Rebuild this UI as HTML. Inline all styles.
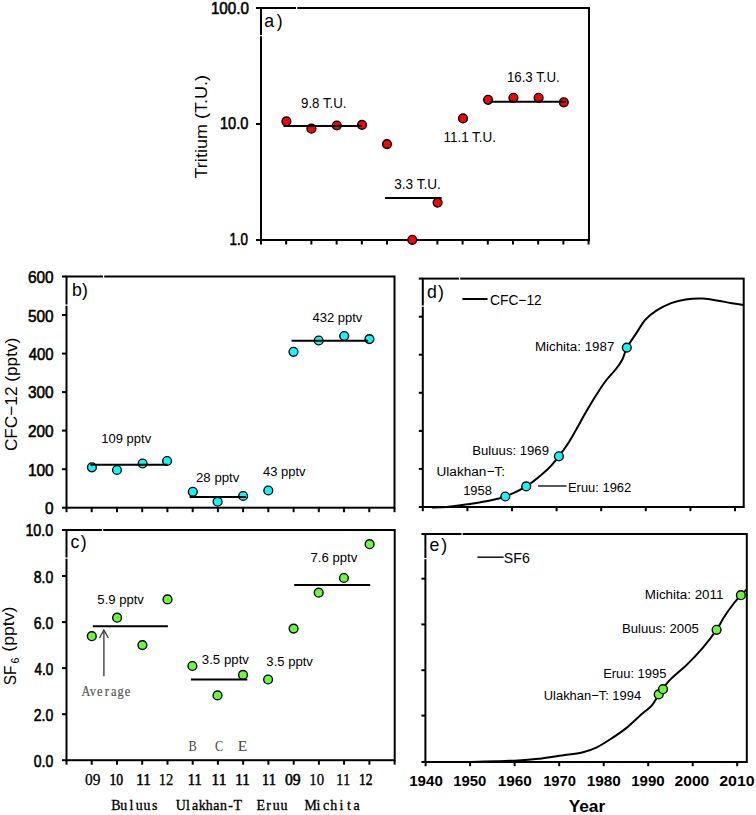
<!DOCTYPE html>
<html><head><meta charset="utf-8"><title>Figure</title>
<style>
html,body{margin:0;padding:0;background:#fff;}
body{width:756px;height:815px;overflow:hidden;font-family:"Liberation Sans",sans-serif;}
svg{display:block;}
</style></head>
<body>
<svg width="756" height="815" viewBox="0 0 756 815">
<rect width="756" height="815" fill="#fff"/>
<rect x="261.0" y="8.0" width="328.0" height="232.0" fill="none" stroke="#000" stroke-width="2"/>
<rect x="296.0" y="6.0" width="1.2" height="4" fill="#fff"/>
<rect x="259.0" y="35.0" width="4" height="1.2" fill="#fff"/>
<line x1="256.0" y1="8.0" x2="261.0" y2="8.0" stroke="#000" stroke-width="2"/>
<line x1="256.0" y1="124.0" x2="261.0" y2="124.0" stroke="#000" stroke-width="2"/>
<line x1="256.0" y1="240.0" x2="261.0" y2="240.0" stroke="#000" stroke-width="2"/>
<line x1="261.0" y1="240.0" x2="261.0" y2="244.5" stroke="#000" stroke-width="2"/>
<line x1="286.2" y1="240.0" x2="286.2" y2="244.5" stroke="#000" stroke-width="2"/>
<line x1="311.4" y1="240.0" x2="311.4" y2="244.5" stroke="#000" stroke-width="2"/>
<line x1="336.6" y1="240.0" x2="336.6" y2="244.5" stroke="#000" stroke-width="2"/>
<line x1="361.8" y1="240.0" x2="361.8" y2="244.5" stroke="#000" stroke-width="2"/>
<line x1="387.0" y1="240.0" x2="387.0" y2="244.5" stroke="#000" stroke-width="2"/>
<line x1="412.2" y1="240.0" x2="412.2" y2="244.5" stroke="#000" stroke-width="2"/>
<line x1="437.4" y1="240.0" x2="437.4" y2="244.5" stroke="#000" stroke-width="2"/>
<line x1="462.6" y1="240.0" x2="462.6" y2="244.5" stroke="#000" stroke-width="2"/>
<line x1="487.8" y1="240.0" x2="487.8" y2="244.5" stroke="#000" stroke-width="2"/>
<line x1="513.0" y1="240.0" x2="513.0" y2="244.5" stroke="#000" stroke-width="2"/>
<line x1="538.2" y1="240.0" x2="538.2" y2="244.5" stroke="#000" stroke-width="2"/>
<line x1="563.4" y1="240.0" x2="563.4" y2="244.5" stroke="#000" stroke-width="2"/>
<line x1="588.6" y1="240.0" x2="588.6" y2="244.5" stroke="#000" stroke-width="2"/>
<circle cx="286.4" cy="121.4" r="4.4" fill="#ff0000" stroke="#000" stroke-width="1.4"/>
<circle cx="311.4" cy="128.7" r="4.4" fill="#ff0000" stroke="#000" stroke-width="1.4"/>
<circle cx="336.8" cy="125.5" r="4.4" fill="#ff0000" stroke="#000" stroke-width="1.4"/>
<circle cx="362.0" cy="124.9" r="4.4" fill="#ff0000" stroke="#000" stroke-width="1.4"/>
<circle cx="387.0" cy="144.1" r="4.4" fill="#ff0000" stroke="#000" stroke-width="1.4"/>
<circle cx="412.3" cy="239.8" r="4.4" fill="#ff0000" stroke="#000" stroke-width="1.4"/>
<circle cx="437.6" cy="202.6" r="4.4" fill="#ff0000" stroke="#000" stroke-width="1.4"/>
<circle cx="463.0" cy="118.4" r="4.4" fill="#ff0000" stroke="#000" stroke-width="1.4"/>
<circle cx="488.1" cy="99.8" r="4.4" fill="#ff0000" stroke="#000" stroke-width="1.4"/>
<circle cx="513.4" cy="97.8" r="4.4" fill="#ff0000" stroke="#000" stroke-width="1.4"/>
<circle cx="538.6" cy="97.8" r="4.4" fill="#ff0000" stroke="#000" stroke-width="1.4"/>
<circle cx="563.8" cy="102.3" r="4.4" fill="#ff0000" stroke="#000" stroke-width="1.4"/>
<line x1="283.5" y1="126.0" x2="362.0" y2="126.0" stroke="#000" stroke-width="2"/>
<line x1="385.1" y1="198.1" x2="441.6" y2="198.1" stroke="#000" stroke-width="2"/>
<line x1="489.0" y1="101.8" x2="566.0" y2="101.8" stroke="#000" stroke-width="2"/>
<rect x="66.5" y="276.5" width="328.0" height="231.2" fill="none" stroke="#000" stroke-width="2"/>
<rect x="103.0" y="274.5" width="1.2" height="4" fill="#fff"/>
<rect x="64.5" y="304.5" width="4" height="1.2" fill="#fff"/>
<line x1="62.0" y1="507.7" x2="66.5" y2="507.7" stroke="#000" stroke-width="2"/>
<line x1="62.0" y1="469.2" x2="66.5" y2="469.2" stroke="#000" stroke-width="2"/>
<line x1="62.0" y1="430.6" x2="66.5" y2="430.6" stroke="#000" stroke-width="2"/>
<line x1="62.0" y1="392.1" x2="66.5" y2="392.1" stroke="#000" stroke-width="2"/>
<line x1="62.0" y1="353.6" x2="66.5" y2="353.6" stroke="#000" stroke-width="2"/>
<line x1="62.0" y1="315.0" x2="66.5" y2="315.0" stroke="#000" stroke-width="2"/>
<line x1="62.0" y1="276.5" x2="66.5" y2="276.5" stroke="#000" stroke-width="2"/>
<line x1="66.5" y1="507.7" x2="66.5" y2="512.2" stroke="#000" stroke-width="2"/>
<line x1="91.7" y1="507.7" x2="91.7" y2="512.2" stroke="#000" stroke-width="2"/>
<line x1="117.0" y1="507.7" x2="117.0" y2="512.2" stroke="#000" stroke-width="2"/>
<line x1="142.2" y1="507.7" x2="142.2" y2="512.2" stroke="#000" stroke-width="2"/>
<line x1="167.4" y1="507.7" x2="167.4" y2="512.2" stroke="#000" stroke-width="2"/>
<line x1="192.7" y1="507.7" x2="192.7" y2="512.2" stroke="#000" stroke-width="2"/>
<line x1="217.9" y1="507.7" x2="217.9" y2="512.2" stroke="#000" stroke-width="2"/>
<line x1="243.1" y1="507.7" x2="243.1" y2="512.2" stroke="#000" stroke-width="2"/>
<line x1="268.3" y1="507.7" x2="268.3" y2="512.2" stroke="#000" stroke-width="2"/>
<line x1="293.6" y1="507.7" x2="293.6" y2="512.2" stroke="#000" stroke-width="2"/>
<line x1="318.8" y1="507.7" x2="318.8" y2="512.2" stroke="#000" stroke-width="2"/>
<line x1="344.0" y1="507.7" x2="344.0" y2="512.2" stroke="#000" stroke-width="2"/>
<line x1="369.3" y1="507.7" x2="369.3" y2="512.2" stroke="#000" stroke-width="2"/>
<line x1="394.5" y1="507.7" x2="394.5" y2="512.2" stroke="#000" stroke-width="2"/>
<circle cx="91.9" cy="467.3" r="4.4" fill="#00ffff" stroke="#000" stroke-width="1.4"/>
<circle cx="117.0" cy="470.0" r="4.4" fill="#00ffff" stroke="#000" stroke-width="1.4"/>
<circle cx="142.6" cy="463.5" r="4.4" fill="#00ffff" stroke="#000" stroke-width="1.4"/>
<circle cx="167.1" cy="461.0" r="4.4" fill="#00ffff" stroke="#000" stroke-width="1.4"/>
<circle cx="192.8" cy="491.8" r="4.4" fill="#00ffff" stroke="#000" stroke-width="1.4"/>
<circle cx="217.6" cy="501.7" r="4.4" fill="#00ffff" stroke="#000" stroke-width="1.4"/>
<circle cx="243.1" cy="496.0" r="4.4" fill="#00ffff" stroke="#000" stroke-width="1.4"/>
<circle cx="268.3" cy="490.5" r="4.4" fill="#00ffff" stroke="#000" stroke-width="1.4"/>
<circle cx="293.5" cy="351.8" r="4.4" fill="#00ffff" stroke="#000" stroke-width="1.4"/>
<circle cx="318.7" cy="340.5" r="4.4" fill="#00ffff" stroke="#000" stroke-width="1.4"/>
<circle cx="344.2" cy="336.0" r="4.4" fill="#00ffff" stroke="#000" stroke-width="1.4"/>
<circle cx="369.4" cy="339.1" r="4.4" fill="#00ffff" stroke="#000" stroke-width="1.4"/>
<line x1="90.3" y1="464.8" x2="167.5" y2="464.8" stroke="#000" stroke-width="2"/>
<line x1="189.6" y1="497.1" x2="245.8" y2="497.1" stroke="#000" stroke-width="2"/>
<line x1="291.6" y1="340.7" x2="368.1" y2="340.7" stroke="#000" stroke-width="2"/>
<rect x="66.5" y="530.0" width="328.2" height="230.2" fill="none" stroke="#000" stroke-width="2"/>
<rect x="102.0" y="528.0" width="1.2" height="4" fill="#fff"/>
<rect x="64.5" y="557.5" width="4" height="1.2" fill="#fff"/>
<line x1="62.0" y1="760.2" x2="66.5" y2="760.2" stroke="#000" stroke-width="2"/>
<line x1="62.0" y1="714.2" x2="66.5" y2="714.2" stroke="#000" stroke-width="2"/>
<line x1="62.0" y1="668.1" x2="66.5" y2="668.1" stroke="#000" stroke-width="2"/>
<line x1="62.0" y1="622.1" x2="66.5" y2="622.1" stroke="#000" stroke-width="2"/>
<line x1="62.0" y1="576.0" x2="66.5" y2="576.0" stroke="#000" stroke-width="2"/>
<line x1="62.0" y1="530.0" x2="66.5" y2="530.0" stroke="#000" stroke-width="2"/>
<line x1="66.5" y1="760.2" x2="66.5" y2="764.7" stroke="#000" stroke-width="2"/>
<line x1="91.7" y1="760.2" x2="91.7" y2="764.7" stroke="#000" stroke-width="2"/>
<line x1="117.0" y1="760.2" x2="117.0" y2="764.7" stroke="#000" stroke-width="2"/>
<line x1="142.2" y1="760.2" x2="142.2" y2="764.7" stroke="#000" stroke-width="2"/>
<line x1="167.5" y1="760.2" x2="167.5" y2="764.7" stroke="#000" stroke-width="2"/>
<line x1="192.7" y1="760.2" x2="192.7" y2="764.7" stroke="#000" stroke-width="2"/>
<line x1="217.9" y1="760.2" x2="217.9" y2="764.7" stroke="#000" stroke-width="2"/>
<line x1="243.2" y1="760.2" x2="243.2" y2="764.7" stroke="#000" stroke-width="2"/>
<line x1="268.4" y1="760.2" x2="268.4" y2="764.7" stroke="#000" stroke-width="2"/>
<line x1="293.7" y1="760.2" x2="293.7" y2="764.7" stroke="#000" stroke-width="2"/>
<line x1="318.9" y1="760.2" x2="318.9" y2="764.7" stroke="#000" stroke-width="2"/>
<line x1="344.1" y1="760.2" x2="344.1" y2="764.7" stroke="#000" stroke-width="2"/>
<line x1="369.4" y1="760.2" x2="369.4" y2="764.7" stroke="#000" stroke-width="2"/>
<line x1="394.6" y1="760.2" x2="394.6" y2="764.7" stroke="#000" stroke-width="2"/>
<circle cx="91.8" cy="636.2" r="4.4" fill="#66ff33" stroke="#000" stroke-width="1.4"/>
<circle cx="117.1" cy="617.7" r="4.4" fill="#66ff33" stroke="#000" stroke-width="1.4"/>
<circle cx="142.4" cy="645.1" r="4.4" fill="#66ff33" stroke="#000" stroke-width="1.4"/>
<circle cx="167.5" cy="599.4" r="4.4" fill="#66ff33" stroke="#000" stroke-width="1.4"/>
<circle cx="192.4" cy="666.0" r="4.4" fill="#66ff33" stroke="#000" stroke-width="1.4"/>
<circle cx="217.5" cy="695.4" r="4.4" fill="#66ff33" stroke="#000" stroke-width="1.4"/>
<circle cx="243.0" cy="674.9" r="4.4" fill="#66ff33" stroke="#000" stroke-width="1.4"/>
<circle cx="268.1" cy="679.5" r="4.4" fill="#66ff33" stroke="#000" stroke-width="1.4"/>
<circle cx="293.6" cy="628.6" r="4.4" fill="#66ff33" stroke="#000" stroke-width="1.4"/>
<circle cx="318.7" cy="592.7" r="4.4" fill="#66ff33" stroke="#000" stroke-width="1.4"/>
<circle cx="343.9" cy="578.0" r="4.4" fill="#66ff33" stroke="#000" stroke-width="1.4"/>
<circle cx="369.6" cy="544.2" r="4.4" fill="#66ff33" stroke="#000" stroke-width="1.4"/>
<line x1="92.8" y1="626.2" x2="167.9" y2="626.2" stroke="#000" stroke-width="2"/>
<line x1="190.9" y1="679.5" x2="247.3" y2="679.5" stroke="#000" stroke-width="2"/>
<line x1="294.2" y1="585.0" x2="370.2" y2="585.0" stroke="#000" stroke-width="2"/>
<line x1="103.9" y1="676.3" x2="103.9" y2="630.5" stroke="#333" stroke-width="1.3"/>
<polyline points="99.5,638 103.9,630 108.4,638" fill="none" stroke="#333" stroke-width="1.3"/>
<rect x="422.8" y="278.6" width="320.9" height="228.4" fill="none" stroke="#000" stroke-width="2"/>
<rect x="459.0" y="276.6" width="1.2" height="4" fill="#fff"/>
<rect x="420.8" y="305.5" width="4" height="1.2" fill="#fff"/>
<line x1="418.8" y1="468.9" x2="422.8" y2="468.9" stroke="#000" stroke-width="2"/>
<line x1="418.8" y1="430.9" x2="422.8" y2="430.9" stroke="#000" stroke-width="2"/>
<line x1="418.8" y1="392.8" x2="422.8" y2="392.8" stroke="#000" stroke-width="2"/>
<line x1="418.8" y1="354.7" x2="422.8" y2="354.7" stroke="#000" stroke-width="2"/>
<line x1="418.8" y1="316.7" x2="422.8" y2="316.7" stroke="#000" stroke-width="2"/>
<line x1="418.8" y1="278.6" x2="422.8" y2="278.6" stroke="#000" stroke-width="2"/>
<line x1="418.8" y1="507.0" x2="422.8" y2="507.0" stroke="#000" stroke-width="2"/>
<line x1="422.8" y1="507.0" x2="422.8" y2="511.2" stroke="#000" stroke-width="2"/>
<line x1="467.4" y1="507.0" x2="467.4" y2="511.2" stroke="#000" stroke-width="2"/>
<line x1="512.0" y1="507.0" x2="512.0" y2="511.2" stroke="#000" stroke-width="2"/>
<line x1="556.6" y1="507.0" x2="556.6" y2="511.2" stroke="#000" stroke-width="2"/>
<line x1="601.2" y1="507.0" x2="601.2" y2="511.2" stroke="#000" stroke-width="2"/>
<line x1="645.8" y1="507.0" x2="645.8" y2="511.2" stroke="#000" stroke-width="2"/>
<line x1="690.4" y1="507.0" x2="690.4" y2="511.2" stroke="#000" stroke-width="2"/>
<line x1="735.0" y1="507.0" x2="735.0" y2="511.2" stroke="#000" stroke-width="2"/>
<line x1="462.4" y1="299.0" x2="487.5" y2="299.0" stroke="#000" stroke-width="2"/>
<path d="M432.0,507.6 C434.4,507.5 440.6,507.6 446.5,507.0 C452.4,506.4 461.0,505.3 467.6,504.3 C474.2,503.3 479.8,502.5 486.1,501.2 C492.4,499.9 498.6,499.0 505.3,496.5 C512.0,494.0 519.1,490.9 526.2,486.4 C533.3,481.8 542.2,474.2 547.7,469.2 C553.2,464.2 555.6,460.4 558.9,456.3 C562.2,452.2 564.6,448.7 567.5,444.3 C570.4,439.9 573.2,434.7 576.1,429.7 C579.0,424.7 581.6,419.6 584.7,414.2 C587.9,408.8 591.6,402.4 595.0,397.0 C598.4,391.6 601.9,386.1 605.3,381.5 C608.7,376.9 612.7,373.2 615.6,369.5 C618.5,365.8 620.6,362.8 622.5,359.2 C624.4,355.6 624.5,352.1 626.8,347.8 C629.1,343.5 633.1,338.1 636.2,333.4 C639.3,328.7 641.9,323.6 645.2,319.8 C648.6,316.0 652.0,313.4 656.3,310.6 C660.6,307.8 666.2,305.0 671.1,303.1 C676.0,301.2 680.6,300.1 685.9,299.4 C691.2,298.6 697.5,298.4 702.9,298.6 C708.3,298.8 713.4,299.9 718.3,300.7 C723.1,301.5 727.9,302.6 732.0,303.3 C736.1,304.0 741.2,304.7 743.1,305.0" fill="none" stroke="#000" stroke-width="2"/>
<circle cx="505.3" cy="496.5" r="4.4" fill="#00ffff" stroke="#000" stroke-width="1.4"/>
<circle cx="526.2" cy="486.4" r="4.4" fill="#00ffff" stroke="#000" stroke-width="1.4"/>
<circle cx="558.9" cy="456.3" r="4.4" fill="#00ffff" stroke="#000" stroke-width="1.4"/>
<circle cx="626.8" cy="347.6" r="4.4" fill="#00ffff" stroke="#000" stroke-width="1.4"/>
<line x1="538.1" y1="486.0" x2="566.5" y2="486.0" stroke="#000" stroke-width="1.3"/>
<rect x="425.4" y="534.0" width="321.4" height="228.0" fill="none" stroke="#000" stroke-width="2"/>
<rect x="461.5" y="532.0" width="1.2" height="4" fill="#fff"/>
<rect x="423.4" y="558.0" width="4" height="1.2" fill="#fff"/>
<line x1="421.4" y1="534.0" x2="425.4" y2="534.0" stroke="#000" stroke-width="2"/>
<line x1="421.4" y1="578.7" x2="425.4" y2="578.7" stroke="#000" stroke-width="2"/>
<line x1="421.4" y1="624.4" x2="425.4" y2="624.4" stroke="#000" stroke-width="2"/>
<line x1="421.4" y1="670.2" x2="425.4" y2="670.2" stroke="#000" stroke-width="2"/>
<line x1="421.4" y1="715.6" x2="425.4" y2="715.6" stroke="#000" stroke-width="2"/>
<line x1="421.4" y1="762.0" x2="425.4" y2="762.0" stroke="#000" stroke-width="2"/>
<line x1="425.6" y1="762.0" x2="425.6" y2="766.2" stroke="#000" stroke-width="2"/>
<line x1="470.1" y1="762.0" x2="470.1" y2="766.2" stroke="#000" stroke-width="2"/>
<line x1="514.6" y1="762.0" x2="514.6" y2="766.2" stroke="#000" stroke-width="2"/>
<line x1="559.2" y1="762.0" x2="559.2" y2="766.2" stroke="#000" stroke-width="2"/>
<line x1="603.7" y1="762.0" x2="603.7" y2="766.2" stroke="#000" stroke-width="2"/>
<line x1="648.2" y1="762.0" x2="648.2" y2="766.2" stroke="#000" stroke-width="2"/>
<line x1="692.7" y1="762.0" x2="692.7" y2="766.2" stroke="#000" stroke-width="2"/>
<line x1="737.2" y1="762.0" x2="737.2" y2="766.2" stroke="#000" stroke-width="2"/>
<line x1="477.4" y1="557.2" x2="503.6" y2="557.2" stroke="#000" stroke-width="1.4"/>
<path d="M470.0,762.0 C478.0,761.7 506.3,761.0 518.2,760.4 C530.1,759.8 534.2,759.2 541.5,758.4 C548.8,757.6 555.1,756.5 561.9,755.5 C568.7,754.5 576.4,753.9 582.2,752.5 C588.0,751.1 591.9,749.6 596.8,747.3 C601.6,745.0 606.4,741.8 611.3,738.6 C616.1,735.5 621.0,732.3 625.9,728.4 C630.8,724.5 636.0,719.2 640.4,715.3 C644.8,711.4 649.0,708.6 652.1,705.1 C655.2,701.6 655.9,698.6 658.8,694.5 C661.7,690.4 664.9,685.3 669.5,680.4 C674.1,675.5 681.1,670.4 686.7,664.9 C692.3,659.4 698.2,653.2 703.2,647.4 C708.2,641.5 713.2,634.8 716.6,629.8 C720.0,624.8 720.9,622.0 723.8,617.5 C726.7,613.0 731.2,606.7 734.1,603.0 C737.0,599.3 738.8,597.4 740.9,595.2 C743.0,593.0 745.6,590.5 746.5,589.6" fill="none" stroke="#000" stroke-width="2"/>
<circle cx="658.7" cy="694.4" r="4.4" fill="#66ff33" stroke="#000" stroke-width="1.4"/>
<circle cx="663.0" cy="689.2" r="4.4" fill="#66ff33" stroke="#000" stroke-width="1.4"/>
<circle cx="716.6" cy="629.8" r="4.4" fill="#66ff33" stroke="#000" stroke-width="1.4"/>
<circle cx="740.9" cy="595.2" r="4.4" fill="#66ff33" stroke="#000" stroke-width="1.4"/>
<text id="a100" x="210.90" y="13.92" font-size="17.20" font-weight="normal" font-family='"Liberation Sans", sans-serif' fill="#000" textLength="38.05" lengthAdjust="spacingAndGlyphs" stroke="#000" stroke-width="0.6">100.0</text>
<text id="a10" x="219.91" y="129.35" font-size="17.20" font-weight="normal" font-family='"Liberation Sans", sans-serif' fill="#000" textLength="28.47" lengthAdjust="spacingAndGlyphs" stroke="#000" stroke-width="0.6">10.0</text>
<text id="a1" x="229.48" y="245.48" font-size="17.20" font-weight="normal" font-family='"Liberation Sans", sans-serif' fill="#000" textLength="18.58" lengthAdjust="spacingAndGlyphs" stroke="#000" stroke-width="0.6">1.0</text>
<text id="atit" transform="rotate(-90)" x="-178.48" y="206.86" font-size="16.80" font-weight="normal" font-family='"Liberation Sans", sans-serif' fill="#000" textLength="103.46" lengthAdjust="spacingAndGlyphs">Tritium (T.U.)</text>
<text id="alab" x="264.32" y="27.25" font-size="17.70" font-weight="normal" font-family='"Liberation Sans", sans-serif' fill="#000" textLength="18.28" lengthAdjust="spacing">a)</text>
<text id="a98" x="300.99" y="108.22" font-size="14.50" font-weight="normal" font-family='"Liberation Sans", sans-serif' fill="#000" textLength="45.55" lengthAdjust="spacingAndGlyphs">9.8 T.U.</text>
<text id="a33" x="394.19" y="188.63" font-size="14.50" font-weight="normal" font-family='"Liberation Sans", sans-serif' fill="#000" textLength="46.66" lengthAdjust="spacingAndGlyphs">3.3 T.U.</text>
<text id="a163" x="506.93" y="81.85" font-size="14.50" font-weight="normal" font-family='"Liberation Sans", sans-serif' fill="#000" textLength="52.81" lengthAdjust="spacingAndGlyphs">16.3 T.U.</text>
<text id="a111" x="443.41" y="142.29" font-size="14.50" font-weight="normal" font-family='"Liberation Sans", sans-serif' fill="#000" textLength="52.67" lengthAdjust="spacingAndGlyphs">11.1 T.U.</text>
<text id="b600" x="27.94" y="283.08" font-size="17.20" font-weight="normal" font-family='"Liberation Sans", sans-serif' fill="#000" textLength="25.67" lengthAdjust="spacingAndGlyphs" stroke="#000" stroke-width="0.6">600</text>
<text id="b500" x="27.94" y="321.63" font-size="17.20" font-weight="normal" font-family='"Liberation Sans", sans-serif' fill="#000" textLength="25.67" lengthAdjust="spacingAndGlyphs" stroke="#000" stroke-width="0.6">500</text>
<text id="b400" x="28.75" y="359.83" font-size="17.20" font-weight="normal" font-family='"Liberation Sans", sans-serif' fill="#000" textLength="24.88" lengthAdjust="spacingAndGlyphs" stroke="#000" stroke-width="0.6">400</text>
<text id="b300" x="27.94" y="398.45" font-size="17.20" font-weight="normal" font-family='"Liberation Sans", sans-serif' fill="#000" textLength="25.67" lengthAdjust="spacingAndGlyphs" stroke="#000" stroke-width="0.6">300</text>
<text id="b200" x="27.94" y="436.83" font-size="17.20" font-weight="normal" font-family='"Liberation Sans", sans-serif' fill="#000" textLength="25.67" lengthAdjust="spacingAndGlyphs" stroke="#000" stroke-width="0.6">200</text>
<text id="b100" x="27.89" y="475.97" font-size="17.20" font-weight="normal" font-family='"Liberation Sans", sans-serif' fill="#000" textLength="25.75" lengthAdjust="spacingAndGlyphs" stroke="#000" stroke-width="0.6">100</text>
<text id="b0" x="45.12" y="514.43" font-size="17.20" font-weight="normal" font-family='"Liberation Sans", sans-serif' fill="#000" textLength="8.54" lengthAdjust="spacingAndGlyphs" stroke="#000" stroke-width="0.6">0</text>
<text id="btit" transform="rotate(-90)" x="-451.11" y="17.36" font-size="16.80" font-weight="normal" font-family='"Liberation Sans", sans-serif' fill="#000" textLength="113.45" lengthAdjust="spacingAndGlyphs">CFC−12 (pptv)</text>
<text id="blab" x="72.07" y="296.33" font-size="17.70" font-weight="normal" font-family='"Liberation Sans", sans-serif' fill="#000" textLength="15.87" lengthAdjust="spacing">b)</text>
<text id="b109" x="101.31" y="443.23" font-size="12.50" font-weight="normal" font-family='"Liberation Sans", sans-serif' fill="#000" textLength="49.88" lengthAdjust="spacingAndGlyphs">109 pptv</text>
<text id="b28" x="196.01" y="482.33" font-size="12.50" font-weight="normal" font-family='"Liberation Sans", sans-serif' fill="#000" textLength="43.38" lengthAdjust="spacingAndGlyphs">28 pptv</text>
<text id="b43" x="263.00" y="476.27" font-size="12.50" font-weight="normal" font-family='"Liberation Sans", sans-serif' fill="#000" textLength="42.60" lengthAdjust="spacingAndGlyphs">43 pptv</text>
<text id="b432" x="312.41" y="321.89" font-size="12.50" font-weight="normal" font-family='"Liberation Sans", sans-serif' fill="#000" textLength="49.99" lengthAdjust="spacingAndGlyphs">432 pptv</text>
<text id="c100" x="25.38" y="536.45" font-size="17.20" font-weight="normal" font-family='"Liberation Sans", sans-serif' fill="#000" textLength="27.86" lengthAdjust="spacingAndGlyphs" stroke="#000" stroke-width="0.6">10.0</text>
<text id="c80" x="33.75" y="582.97" font-size="17.20" font-weight="normal" font-family='"Liberation Sans", sans-serif' fill="#000" textLength="19.55" lengthAdjust="spacingAndGlyphs" stroke="#000" stroke-width="0.6">8.0</text>
<text id="c60" x="33.74" y="628.97" font-size="17.20" font-weight="normal" font-family='"Liberation Sans", sans-serif' fill="#000" textLength="19.55" lengthAdjust="spacingAndGlyphs" stroke="#000" stroke-width="0.6">6.0</text>
<text id="c40" x="34.54" y="674.97" font-size="17.20" font-weight="normal" font-family='"Liberation Sans", sans-serif' fill="#000" textLength="18.77" lengthAdjust="spacingAndGlyphs" stroke="#000" stroke-width="0.6">4.0</text>
<text id="c20" x="33.75" y="720.77" font-size="17.20" font-weight="normal" font-family='"Liberation Sans", sans-serif' fill="#000" textLength="19.55" lengthAdjust="spacingAndGlyphs" stroke="#000" stroke-width="0.6">2.0</text>
<text id="c00" x="33.74" y="766.77" font-size="17.20" font-weight="normal" font-family='"Liberation Sans", sans-serif' fill="#000" textLength="19.55" lengthAdjust="spacingAndGlyphs" stroke="#000" stroke-width="0.6">0.0</text>
<text id="ctitSF" transform="rotate(-90)" x="-685.29" y="15.60" font-size="16.50" font-weight="normal" font-family='"Liberation Sans", sans-serif' fill="#000" textLength="19.66" lengthAdjust="spacingAndGlyphs">SF</text>
<text id="ctit6" transform="rotate(-90)" x="-663.57" y="19.10" font-size="11.60" font-weight="normal" font-family='"Liberation Sans", sans-serif' fill="#000" textLength="5.85" lengthAdjust="spacingAndGlyphs">6</text>
<text id="ctitP" transform="rotate(-90)" x="-651.73" y="14.22" font-size="16.80" font-weight="normal" font-family='"Liberation Sans", sans-serif' fill="#000" textLength="45.23" lengthAdjust="spacingAndGlyphs">(pptv)</text>
<text id="clab" x="70.56" y="548.44" font-size="17.70" font-weight="normal" font-family='"Liberation Sans", sans-serif' fill="#000" textLength="16.13" lengthAdjust="spacing">c)</text>
<text id="c59" x="97.36" y="603.65" font-size="12.50" font-weight="normal" font-family='"Liberation Sans", sans-serif' fill="#000" textLength="46.56" lengthAdjust="spacingAndGlyphs">5.9 pptv</text>
<text id="c35a" x="201.84" y="663.71" font-size="12.50" font-weight="normal" font-family='"Liberation Sans", sans-serif' fill="#000" textLength="47.11" lengthAdjust="spacingAndGlyphs">3.5 pptv</text>
<text id="c35b" x="266.37" y="666.27" font-size="12.50" font-weight="normal" font-family='"Liberation Sans", sans-serif' fill="#000" textLength="46.56" lengthAdjust="spacingAndGlyphs">3.5 pptv</text>
<text id="c76" x="310.50" y="562.17" font-size="12.50" font-weight="normal" font-family='"Liberation Sans", sans-serif' fill="#000" textLength="46.73" lengthAdjust="spacingAndGlyphs">7.6 pptv</text>
<text id="cB" x="188.50" y="750.94" font-size="14.90" font-weight="normal" font-family='"Liberation Serif", serif' fill="#444" textLength="8.22" lengthAdjust="spacingAndGlyphs">B</text>
<text id="cC" x="214.91" y="750.94" font-size="14.90" font-weight="normal" font-family='"Liberation Serif", serif' fill="#444" textLength="8.14" lengthAdjust="spacingAndGlyphs">C</text>
<text id="cE" x="237.75" y="750.94" font-size="14.90" font-weight="normal" font-family='"Liberation Serif", serif' fill="#444" textLength="9.49" lengthAdjust="spacingAndGlyphs">E</text>
<text id="cx0" x="84.96" y="785.00" font-size="15.70" font-weight="normal" font-family='"Liberation Serif", serif' fill="#000" textLength="15.38" lengthAdjust="spacingAndGlyphs" stroke="#000" stroke-width="0.25">09</text>
<text id="cx1" x="109.47" y="785.00" font-size="15.70" font-weight="normal" font-family='"Liberation Serif", serif' fill="#000" textLength="13.66" lengthAdjust="spacingAndGlyphs" stroke="#000" stroke-width="0.55">10</text>
<text id="cx2" x="136.20" y="785.00" font-size="15.70" font-weight="normal" font-family='"Liberation Serif", serif' fill="#000" textLength="14.53" lengthAdjust="spacingAndGlyphs" stroke="#000" stroke-width="0.55">11</text>
<text id="cx3" x="158.79" y="785.00" font-size="15.70" font-weight="normal" font-family='"Liberation Serif", serif' fill="#000" textLength="14.62" lengthAdjust="spacingAndGlyphs" stroke="#000" stroke-width="0.25">12</text>
<text id="cx4" x="187.78" y="785.00" font-size="15.70" font-weight="normal" font-family='"Liberation Serif", serif' fill="#000" textLength="13.95" lengthAdjust="spacingAndGlyphs" stroke="#000" stroke-width="0.55">11</text>
<text id="cx5" x="211.55" y="785.00" font-size="15.70" font-weight="normal" font-family='"Liberation Serif", serif' fill="#000" textLength="14.82" lengthAdjust="spacingAndGlyphs" stroke="#000" stroke-width="0.55">11</text>
<text id="cx6" x="235.19" y="785.00" font-size="15.70" font-weight="normal" font-family='"Liberation Serif", serif' fill="#000" textLength="14.65" lengthAdjust="spacingAndGlyphs" stroke="#000" stroke-width="0.55">11</text>
<text id="cx7" x="261.99" y="785.00" font-size="15.70" font-weight="normal" font-family='"Liberation Serif", serif' fill="#000" textLength="13.89" lengthAdjust="spacingAndGlyphs" stroke="#000" stroke-width="0.55">11</text>
<text id="cx8" x="285.02" y="785.00" font-size="15.70" font-weight="normal" font-family='"Liberation Serif", serif' fill="#000" textLength="15.62" lengthAdjust="spacingAndGlyphs" stroke="#000" stroke-width="0.55">09</text>
<text id="cx9" x="309.35" y="785.00" font-size="15.70" font-weight="normal" font-family='"Liberation Serif", serif' fill="#000" textLength="14.83" lengthAdjust="spacingAndGlyphs" stroke="#000" stroke-width="0.25">10</text>
<text id="cx10" x="336.00" y="785.00" font-size="15.70" font-weight="normal" font-family='"Liberation Serif", serif' fill="#000" textLength="14.33" lengthAdjust="spacingAndGlyphs" stroke="#000" stroke-width="0.25">11</text>
<text id="cx11" x="359.12" y="785.00" font-size="15.70" font-weight="normal" font-family='"Liberation Serif", serif' fill="#000" textLength="13.44" lengthAdjust="spacingAndGlyphs" stroke="#000" stroke-width="0.55">12</text>
<text id="dlab" x="427.05" y="297.66" font-size="17.70" font-weight="normal" font-family='"Liberation Sans", sans-serif' fill="#000" textLength="16.89" lengthAdjust="spacing">d)</text>
<text id="dleg" x="490.01" y="304.79" font-size="14.50" font-weight="normal" font-family='"Liberation Sans", sans-serif' fill="#000" textLength="51.77" lengthAdjust="spacingAndGlyphs">CFC−12</text>
<text id="dmic" x="534.95" y="350.83" font-size="13.70" font-weight="normal" font-family='"Liberation Sans", sans-serif' fill="#000" textLength="79.39" lengthAdjust="spacingAndGlyphs">Michita: 1987</text>
<text id="dbul" x="472.29" y="455.46" font-size="13.70" font-weight="normal" font-family='"Liberation Sans", sans-serif' fill="#000" textLength="76.68" lengthAdjust="spacingAndGlyphs">Buluus: 1969</text>
<text id="dula" x="436.51" y="476.13" font-size="13.70" font-weight="normal" font-family='"Liberation Sans", sans-serif' fill="#000" textLength="68.42" lengthAdjust="spacingAndGlyphs">Ulakhan−T:</text>
<text id="d1958" x="463.14" y="495.32" font-size="13.70" font-weight="normal" font-family='"Liberation Sans", sans-serif' fill="#000" textLength="28.69" lengthAdjust="spacingAndGlyphs">1958</text>
<text id="deru" x="567.94" y="492.49" font-size="13.70" font-weight="normal" font-family='"Liberation Sans", sans-serif' fill="#000" textLength="63.32" lengthAdjust="spacingAndGlyphs">Eruu: 1962</text>
<text id="elab" x="429.59" y="550.74" font-size="17.70" font-weight="normal" font-family='"Liberation Sans", sans-serif' fill="#000" textLength="17.65" lengthAdjust="spacing">e)</text>
<text id="eleg" x="503.86" y="562.83" font-size="14.50" font-weight="normal" font-family='"Liberation Sans", sans-serif' fill="#000" textLength="26.02" lengthAdjust="spacingAndGlyphs">SF6</text>
<text id="emic" x="644.81" y="598.83" font-size="13.70" font-weight="normal" font-family='"Liberation Sans", sans-serif' fill="#000" textLength="78.64" lengthAdjust="spacingAndGlyphs">Michita: 2011</text>
<text id="ebul" x="621.94" y="633.09" font-size="13.70" font-weight="normal" font-family='"Liberation Sans", sans-serif' fill="#000" textLength="76.89" lengthAdjust="spacingAndGlyphs">Buluus: 2005</text>
<text id="eeru" x="603.17" y="677.92" font-size="13.70" font-weight="normal" font-family='"Liberation Sans", sans-serif' fill="#000" textLength="63.19" lengthAdjust="spacingAndGlyphs">Eruu: 1995</text>
<text id="eula" x="543.78" y="700.08" font-size="13.70" font-weight="normal" font-family='"Liberation Sans", sans-serif' fill="#000" textLength="97.34" lengthAdjust="spacingAndGlyphs">Ulakhan−T: 1994</text>
<text id="ey1940" x="409.16" y="786.34" font-size="15.50" font-weight="bold" font-family='"Liberation Sans", sans-serif' fill="#000" textLength="33.66" lengthAdjust="spacingAndGlyphs">1940</text>
<text id="ey1950" x="453.28" y="786.34" font-size="15.50" font-weight="bold" font-family='"Liberation Sans", sans-serif' fill="#000" textLength="33.09" lengthAdjust="spacingAndGlyphs">1950</text>
<text id="ey1960" x="497.69" y="786.34" font-size="15.50" font-weight="bold" font-family='"Liberation Sans", sans-serif' fill="#000" textLength="34.19" lengthAdjust="spacingAndGlyphs">1960</text>
<text id="ey1970" x="543.16" y="786.34" font-size="15.50" font-weight="bold" font-family='"Liberation Sans", sans-serif' fill="#000" textLength="32.80" lengthAdjust="spacingAndGlyphs">1970</text>
<text id="ey1980" x="586.81" y="786.34" font-size="15.50" font-weight="bold" font-family='"Liberation Sans", sans-serif' fill="#000" textLength="34.04" lengthAdjust="spacingAndGlyphs">1980</text>
<text id="ey1990" x="631.16" y="786.34" font-size="15.50" font-weight="bold" font-family='"Liberation Sans", sans-serif' fill="#000" textLength="33.45" lengthAdjust="spacingAndGlyphs">1990</text>
<text id="ey2000" x="674.58" y="786.34" font-size="15.50" font-weight="bold" font-family='"Liberation Sans", sans-serif' fill="#000" textLength="34.72" lengthAdjust="spacingAndGlyphs">2000</text>
<text id="ey2010" x="719.16" y="786.34" font-size="15.50" font-weight="bold" font-family='"Liberation Sans", sans-serif' fill="#000" textLength="35.45" lengthAdjust="spacingAndGlyphs">2010</text>
<text id="eyear" x="568.71" y="812.42" font-size="15.60" font-weight="bold" font-family='"Liberation Sans", sans-serif' fill="#000" textLength="36.48" lengthAdjust="spacingAndGlyphs">Year</text>
<text id="cavg" transform="scale(0.85,1)" x="101.03 109.19 117.36 125.53 133.70 141.87 150.03" y="696.30" text-anchor="middle" font-size="14.5" font-family='"Liberation Serif", serif' fill="#555" stroke="#555" stroke-width="0.2">Average</text>
<text id="cg0" transform="scale(0.9,1)" x="128.77 137.42 146.06 154.71 163.36 172.01" y="809.70" text-anchor="middle" font-size="15.5" font-family='"Liberation Serif", serif' fill="#000" stroke="#000" stroke-width="0.35">Buluus</text>
<text id="cg1" transform="scale(0.9,1)" x="200.85 208.78 216.70 224.63 232.56 240.48 248.41 256.33 264.26" y="809.70" text-anchor="middle" font-size="15.5" font-family='"Liberation Serif", serif' fill="#000" stroke="#000" stroke-width="0.35">Ulakhan-T</text>
<text id="cg2" transform="scale(0.9,1)" x="289.75 298.36 306.97 315.58" y="809.70" text-anchor="middle" font-size="15.5" font-family='"Liberation Serif", serif' fill="#000" stroke="#000" stroke-width="0.35">Eruu</text>
<text id="cg3" transform="scale(0.9,1)" x="345.25 353.76 362.27 370.78 379.29 387.79 396.30" y="809.70" text-anchor="middle" font-size="15.5" font-family='"Liberation Serif", serif' fill="#000" stroke="#000" stroke-width="0.35">Michita</text>
</svg>
</body></html>
